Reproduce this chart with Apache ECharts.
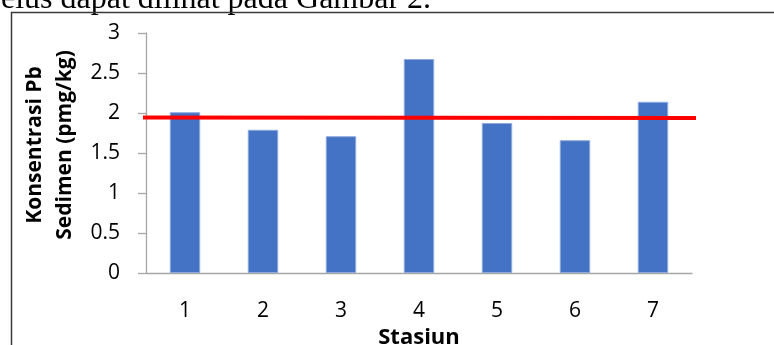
<!DOCTYPE html>
<html>
<head>
<meta charset="utf-8">
<script src="https://cdn.jsdelivr.net/npm/echarts@6/dist/echarts.min.js"></script>
<style>
html,body{margin:0;padding:0;background:#fff;}
#chart{width:774px;height:345px;}
</style>
</head>
<body>
<div id="chart"></div>
<script>
// Data
var stasiun = ['1', '2', '3', '4', '5', '6', '7'];
var konsentrasiPb = [2.01, 1.79, 1.71, 2.675, 1.875, 1.66, 2.14];
var garisRata = [1.945, 1.936];      // red reference line (left end, right end)
var garisPos = [0, 1];
var yTicks = [0, 0.5, 1, 1.5, 2, 2.5, 3];
var captionText = 'elus dapat dilihat pada Gambar 2.';

var chart = echarts.init(document.getElementById('chart'), null, {renderer: 'canvas'});
var font = '"Open Sans", "Noto Sans", sans-serif';

var option = {
  animation: false,
  backgroundColor: '#ffffff',
  graphic: [
    {
      type: 'text', left: 1, top: -16, z: 10,
      style: { text: captionText, font: '32px "Liberation Serif", serif', fill: '#000' }
    },
    {
      type: 'polyline', z: 10,
      shape: { points: [[11.5, 345], [11.5, 12.5], [774, 12.5]] },
      style: { stroke: '#3a3a3a', lineWidth: 1.5, fill: null }
    }
  ],
  grid: [
    { left: 146, right: 82, top: 33, bottom: 72, containLabel: false, outerBoundsMode: 'none' },
    { left: 143, right: 78, top: 33, bottom: 72, containLabel: false, outerBoundsMode: 'none' }
  ],
  xAxis: [
    {
      type: 'category', gridIndex: 0, data: stasiun,
      name: 'Stasiun', nameLocation: 'middle', nameGap: 47,
      nameTextStyle: { fontFamily: font, fontWeight: 'bold', fontSize: 22, color: '#000' },
      axisLine: { lineStyle: { color: '#a6a6a6', width: 1.3 } },
      axisTick: { show: false },
      axisLabel: { fontFamily: font, fontSize: 21, color: '#000', margin: 28 },
      splitLine: { show: false }
    },
    {
      type: 'value', gridIndex: 1, min: 0, max: 1, show: false
    }
  ],
  yAxis: [
    {
      type: 'value', gridIndex: 0, min: 0, max: 3, interval: 0.5,
      name: 'Konsentrasi Pb\nSedimen (pmg/kg)', nameLocation: 'middle', nameGap: 66,
      nameTextStyle: { fontFamily: font, fontWeight: 'bold', fontSize: 21, lineHeight: 30, color: '#000', padding: [0, 0, 0, 16] },
      axisLine: { show: true, lineStyle: { color: '#a6a6a6', width: 1.3 } },
      axisTick: { show: true, inside: false, length: 8, lineStyle: { color: '#a6a6a6', width: 1.3 } },
      axisLabel: {
        fontFamily: font, fontSize: 21, color: '#000', margin: 26,
        formatter: function (v) { return yTicks.indexOf(v) >= 0 ? String(v) : ''; }
      },
      splitLine: { show: false }
    },
    {
      type: 'value', gridIndex: 1, min: 0, max: 3, show: false
    }
  ],
  series: [
    {
      type: 'bar', xAxisIndex: 0, yAxisIndex: 0,
      data: konsentrasiPb, barWidth: '39%',
      itemStyle: { color: '#4472C4', borderColor: '#8eaadc', borderWidth: 1 }
    },
    {
      type: 'line', xAxisIndex: 1, yAxisIndex: 1,
      data: garisPos.map(function (x, i) { return [x, garisRata[i]]; }),
      symbol: 'none', z: 5,
      lineStyle: { color: '#ff0000', width: 4 }
    }
  ]
};
chart.setOption(option);
</script>
</body>
</html>
